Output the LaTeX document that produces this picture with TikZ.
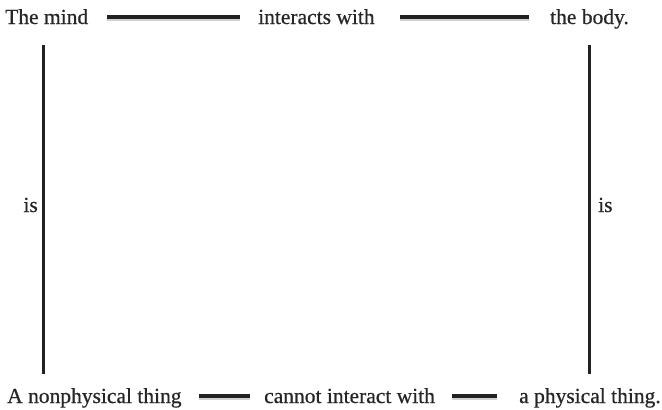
\documentclass[tikz,border=0pt]{standalone}
\usepackage{fontspec}
\setmainfont{Liberation Serif}
\newfontfamily\lblfont[FakeBold=0.6]{Liberation Serif}
\begin{document}
\begin{tikzpicture}[x=1pt,y=-1pt,
  lbl/.style={inner sep=0pt, font=\lblfont\fontsize{21.5}{24}\selectfont, text=black!85},
  bar/.style={line width=4pt, draw=black!87},
  barshade/.style={line width=2pt, draw=black!18}]
\useasboundingbox (0,0) rectangle (662,410);

% statements
\node[lbl, anchor=base west] (mind) at (5,24) {The mind};
\node[lbl, anchor=base west] (inter) at (258,24) {interacts with};
\node[lbl, anchor=base west] (body) at (550,24) {the body.};
\node[lbl, anchor=base west] (nonphys) at (7,403) {A nonphysical thing};
\node[lbl, anchor=base west] (cannot) at (264,403) {cannot interact with};
\node[lbl, anchor=base west] (phys) at (519,403) {a physical thing.};
\node[lbl, anchor=base east] (isL) at (38,212) {is};
\node[lbl, anchor=base west] (isR) at (598,212) {is};

% connection points
\coordinate (m1) at (107,17);  \coordinate (m2) at (240,17);
\coordinate (b1) at (400,17);  \coordinate (b2) at (529,17);
\coordinate (n1) at (199,396); \coordinate (n2) at (250,396);
\coordinate (p1) at (452,396); \coordinate (p2) at (497,396);
\coordinate (lt) at (43.5,45); \coordinate (lb) at (43.5,374);
\coordinate (rt) at (589.5,45); \coordinate (rb) at (589.5,374);

% soft shadows under the horizontal bars
\foreach \a/\b in {m1/m2, b1/b2, n1/n2, p1/p2}
  \draw[barshade] ([yshift=-2.5pt]\a) -- ([yshift=-2.5pt]\b);

% bars
\draw[bar] (m1) -- (m2);
\draw[bar] (b1) -- (b2);
\draw[bar] (n1) -- (n2);
\draw[bar] (p1) -- (p2);
\draw[bar, line width=3.5pt] (lt) -- (lb);
\draw[bar, line width=3.5pt] (rt) -- (rb);
\end{tikzpicture}
\end{document}
